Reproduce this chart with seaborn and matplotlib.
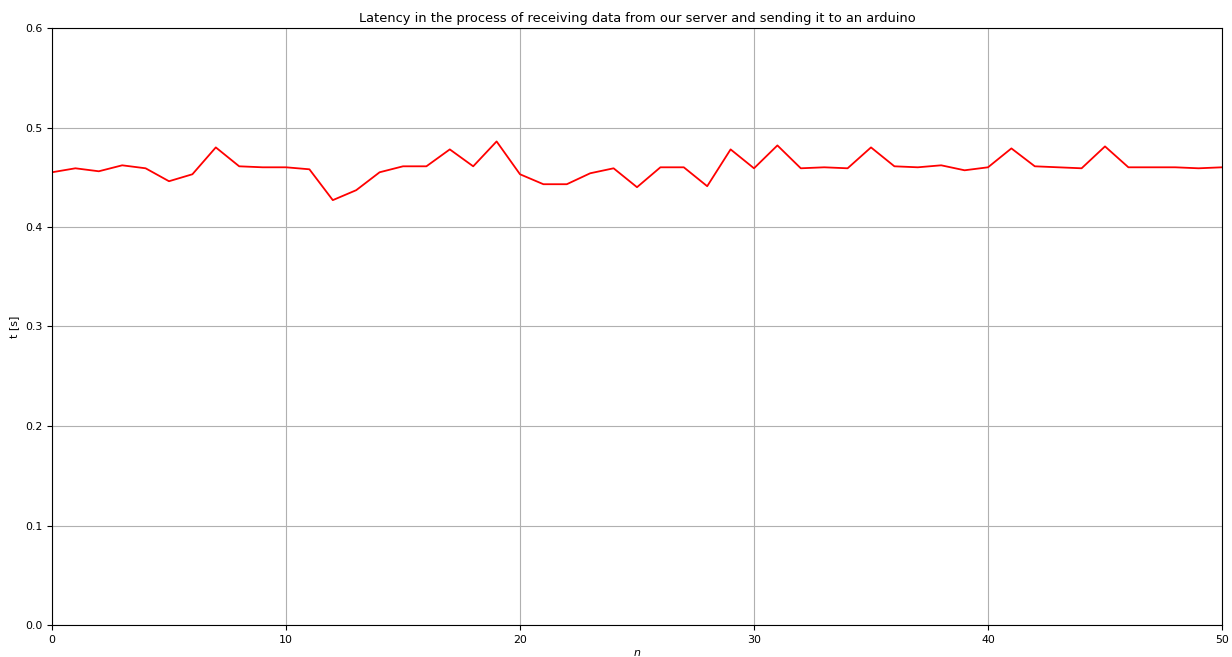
import numpy as np
import matplotlib
matplotlib.use("Agg")
import matplotlib.pyplot as plt
import seaborn as sns

n = list(range(51))
latency = [0.455, 0.459, 0.456, 0.462, 0.459, 0.446, 0.453, 0.480, 0.461, 0.460,
           0.460, 0.458, 0.427, 0.437, 0.455, 0.461, 0.461, 0.478, 0.461, 0.486,
           0.453, 0.443, 0.443, 0.454, 0.459, 0.440, 0.460, 0.460, 0.441, 0.478,
           0.459, 0.482, 0.459, 0.460, 0.459, 0.480, 0.461, 0.460, 0.462, 0.457,
           0.460, 0.479, 0.461, 0.460, 0.459, 0.481, 0.460, 0.460, 0.460, 0.459,
           0.460]


def plot_latency():
    plt.rcParams["font.size"] = 7.9
    plt.rcParams["axes.titlesize"] = 9.4

    fig = plt.figure(figsize=(12.32, 6.57), dpi=100)
    ax = fig.add_axes([52 / 1232, 32 / 657, 1170 / 1232, 597 / 657])

    sns.lineplot(x=n, y=latency, color="red", linewidth=1.3, ax=ax)

    ax.set_xlim(0, 50)
    ax.set_ylim(0, 0.6)
    ax.set_title("Latency in the process of receiving data from our server and sending it to an arduino", pad=4)
    ax.set_xlabel("$n$", labelpad=2)
    ax.set_ylabel("t [s]")
    ax.grid(True)

    fig.savefig("out.png", dpi=100)


if __name__ == "__main__":
    plot_latency()
